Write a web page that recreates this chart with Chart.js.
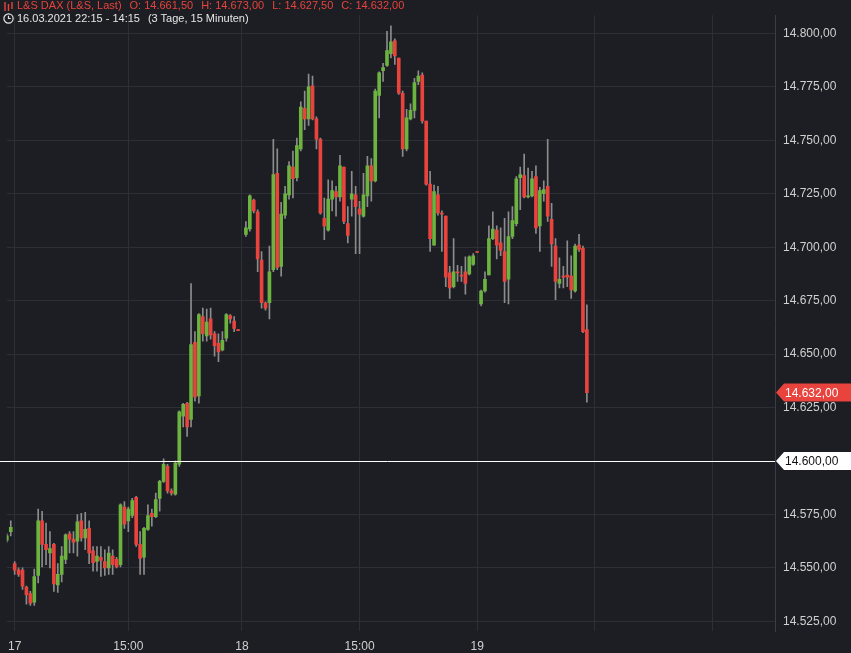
<!DOCTYPE html>
<html>
<head>
<meta charset="utf-8">
<script src="https://cdn.jsdelivr.net/npm/chart.js@4"></script>
<style>
  body { margin: 0; background: #1c1e23; overflow: hidden; }
  #wrap { position: relative; width: 851px; height: 653px; }
  #head { position: absolute; left: 3px; top: -1px; font: 11px "Liberation Sans", Arial, sans-serif; line-height: 13px; pointer-events: none; }
  #head .l1 { color: #e8433d; display: flex; align-items: center; gap: 3px; }
  #head .l2 { color: #e6e6e6; display: flex; align-items: center; gap: 3px; margin-top: 0px; }
  #head .sp { margin-left: 5px; }
</style>
</head>
<body>
<div id="wrap">
  <canvas id="chart" width="851" height="653"></canvas>
  <div id="head">
    <div class="l1">
      <svg width="11" height="10"><g stroke="#e8433d" stroke-width="1.4"><line x1="2" y1="1" x2="2" y2="10"/><line x1="5.5" y1="3" x2="5.5" y2="10"/><line x1="9" y1="1" x2="9" y2="8"/></g></svg>
      <span>L&amp;S DAX (L&amp;S, Last)</span><span class="sp">O: 14.661,50</span><span class="sp">H: 14.673,00</span><span class="sp">L: 14.627,50</span><span class="sp">C: 14.632,00</span>
    </div>
    <div class="l2">
      <svg width="11" height="11"><circle cx="5.5" cy="5.5" r="4.6" fill="none" stroke="#e6e6e6" stroke-width="1.2"/><path d="M5.5 2.8 V5.5 H7.8" fill="none" stroke="#e6e6e6" stroke-width="1.2"/></svg>
      <span>16.03.2021 22:15 - 14:15</span><span class="sp">(3 Tage, 15 Minuten)</span>
    </div>
  </div>
</div>
<script>
// 15-Minuten-Kerzen, null = Handelspause
const opens = [14563,14567,14552,14549,14549,14541,14538,14534,14546.5,14572,14561,14557,14561,14542,14547,14554,14566,14563.5,14562.5,14572,14564,14568.5,14558,14553,14555,14553,14550,14555.5,14554,14551.5,14578.5,14572,14574.5,14583,14561,14555,14568,14575.5,14574,14582.5,14590.5,14597.5,14586,14584.5,14598.5,14621,14627,14619.5,14655.5,14630.5,14667.5,14658.5,14666.5,14659.5,14655,14652,14657.5,14668,14665.5,14661.5,
  null,
  14706,14708.5,14722,14716.5,14694,14674,14674,14689.5,14734.5,14691,14715,14724.5,14737.5,14732.5,14746,14765,14760,14775.5,14760,14750.5,14713.5,14708,14722.5,14726,14723.5,14737.5,14711,14722.5,14724.5,14718,14714.5,14724,14738,14731,14771,14782.5,14785,14790.5,14796.5,14788.5,14772,14746,14760,14764,14777.5,14780.5,14759,14729.5,14701,14724.5,14716,14714.5,14688,14681.5,14688.5,14687,14688.5,14687.5,14692,14698,
  14673.5,14679.5,14687,14704,14708,14702,14698,14685,14705,14711,14732.5,14733.5,14723.5,14724,14733,14710,14725,14728.5,14713,14700.5,14683,14686.5,14687,14686.5,14679.5,14701,14699.5,14661.5];
const highs = [14566,14572,14553,14550,14550,14541.5,14539,14549.5,14577.5,14576.5,14571,14567,14561.5,14552,14560,14566,14567,14567,14575,14575.5,14576,14572,14560,14560,14560,14558.5,14560,14558.5,14555,14580,14581,14578.5,14582.5,14583.5,14567,14569,14579.5,14577.5,14585,14591,14601,14598.5,14587,14600,14623.5,14627,14627.5,14683,14660.5,14669,14671.5,14671,14671.5,14660.5,14659.5,14660.5,14669,14668.5,14667.5,14661.5,
  null,
  14712,14724.5,14722.5,14717.5,14698,14674.5,14700.5,14750.5,14746,14721,14728.5,14740,14745,14751,14768,14773,14781,14780,14761,14751,14723,14731.5,14731,14728.5,14743,14737.5,14719,14735.5,14728.5,14721.5,14734.5,14742.5,14741.5,14774,14782,14786,14801,14803.5,14797.5,14788.5,14773,14764.5,14767,14779,14782.5,14781.5,14759,14735.5,14729,14728.5,14717,14714.5,14691,14704,14691.5,14691,14695.5,14696,14697,14698,
  14680,14688.5,14710,14716.5,14710,14709,14713.5,14716.5,14719,14733,14737.5,14743.5,14737,14735.5,14738,14728,14731,14750.5,14720.5,14704,14695,14691,14703,14696,14701.5,14706,14700.5,14673];
const lows = [14562,14565,14547,14546,14540,14533,14532.5,14532.5,14543,14550.5,14551.5,14550,14539,14538.5,14543.5,14552,14557,14557,14555.5,14562.5,14558.5,14552,14548.5,14548.5,14546,14546.5,14547,14547,14550,14550.5,14568.5,14567,14573.5,14560,14547,14547,14567.5,14569.5,14573.5,14576.5,14590,14585,14584,14584,14597.5,14616,14611.5,14616,14628,14627,14656,14656,14657,14649,14646.5,14651.5,14656,14664.5,14660.5,14661,
  null,
  14705,14707.5,14716,14688.5,14671.5,14670.5,14666.5,14688.5,14689.5,14686.5,14713.5,14722.5,14723,14731,14745,14755,14757,14759.5,14746,14715.5,14703.5,14707.5,14717,14714.5,14721.5,14711,14702,14714.5,14697,14697,14714,14719,14721.5,14730.5,14760.5,14777.5,14784.5,14788.5,14785.5,14771.5,14742.5,14745,14759.5,14760.5,14776,14758,14729,14698,14701,14715,14698,14681.5,14676,14681,14684,14684,14678,14687,14691.5,14697.5,
  14672.5,14679,14687,14703.5,14694.5,14696,14674,14673.5,14704,14710,14717.5,14723,14723,14723.5,14706.5,14698,14721.5,14712,14691,14675.5,14681,14681,14681.5,14676,14679,14698,14660,14627.5];
const closes = [14565,14569,14549,14547,14541.5,14537.5,14533.5,14546,14572,14561,14558.5,14559,14542.5,14547,14555.5,14565.5,14563.5,14562,14571.5,14564,14568,14557,14552.5,14555.5,14553.5,14550,14557,14551.5,14550.5,14579.5,14570.5,14577.5,14581.5,14561,14554.5,14568.5,14574.5,14574,14582,14590.5,14598.5,14586,14585,14599,14623,14626.5,14616,14654.5,14630,14668.5,14659.5,14665,14659,14654,14651,14656.5,14668.5,14666.5,14662,14661,
  null,
  14709,14724,14717,14694.5,14674,14671.5,14688.5,14734,14690.5,14715.5,14725,14738,14732,14747.5,14765.5,14760,14775,14760,14750.5,14716,14710,14722.5,14726.5,14723.5,14738,14712,14705.5,14725,14719,14715.5,14724.5,14738,14731,14773,14781.5,14784,14792,14796,14789.5,14772,14746,14760.5,14764,14777,14780,14759,14729.5,14704,14726,14716,14715.5,14686,14681,14688.5,14688,14686.5,14683,14695.5,14696,14697.5,
  14679.5,14685,14704,14708.5,14701,14698.5,14684,14705,14712.5,14732,14734,14723.5,14724,14732,14709,14726.5,14727,14714.5,14701.5,14684,14685,14686,14686,14680,14700.5,14699,14660.5,14632];
const tickIdx = [2, 31, 60, 90, 120, 150, 180];
const tickLabels = ['17', '15:00', '18', '15:00', '19', '', ''];
const lastPrice = 14632;
const linePrice = 14600;

const green = '#6cb33f', red = '#e8433d';
const wicks = [], bodies = [], bodyColors = [];
opens.forEach((o, i) => {
  if (o === null) return;
  wicks.push({ x: i, y: [lows[i], highs[i]] });
  bodies.push({ x: i, y: [o, closes[i]] });
  bodyColors.push(closes[i] >= o ? green : red);
});

const fmt = v => v.toLocaleString('de-DE', { minimumFractionDigits: 2, maximumFractionDigits: 2 });

const priceTags = {
  id: 'priceTags',
  afterDatasetsDraw(chart) {
    const { ctx, chartArea, scales } = chart;
    ctx.save();
    const yl = Math.round(scales.y.getPixelForValue(linePrice)) + 0.5;
    ctx.strokeStyle = '#ffffff';
    ctx.lineWidth = 1;
    ctx.beginPath(); ctx.moveTo(0, yl); ctx.lineTo(chartArea.right, yl); ctx.stroke();
    const tag = (price, bg, fg) => {
      const y = scales.y.getPixelForValue(price);
      const x0 = chartArea.right;
      ctx.fillStyle = bg;
      ctx.beginPath();
      ctx.moveTo(x0 + 1, y);
      ctx.lineTo(x0 + 9, y - 9);
      ctx.lineTo(851, y - 9);
      ctx.lineTo(851, y + 9);
      ctx.lineTo(x0 + 9, y + 9);
      ctx.closePath();
      ctx.fill();
      ctx.fillStyle = fg;
      ctx.font = '12px "Liberation Sans", Arial, sans-serif';
      ctx.textBaseline = 'middle';
      ctx.fillText(fmt(price), x0 + 10, y + 1);
    };
    tag(linePrice, '#ffffff', '#111111');
    tag(lastPrice, red, '#ffffff');
    ctx.restore();
  }
};

new Chart(document.getElementById('chart'), {
  type: 'bar',
  data: {
    datasets: [
      { data: wicks, backgroundColor: '#8c8c8c', barThickness: 1, grouped: false, order: 2 },
      { data: bodies, backgroundColor: bodyColors, barThickness: 3, minBarLength: 1, grouped: false, order: 1 }
    ]
  },
  options: {
    responsive: false,
    animation: false,
    layout: { padding: 0 },
    plugins: { legend: { display: false }, tooltip: { enabled: false } },
    scales: {
      x: {
        type: 'linear', min: 0, max: 196, offset: false,
        afterBuildTicks: s => { s.ticks = tickIdx.map(v => ({ value: v })); },
        afterFit: s => { s.height = 22; },
        ticks: {
          color: '#d0d0d0', font: { size: 12, family: 'Liberation Sans' }, maxRotation: 0, padding: 8,
          callback: (v, i) => tickLabels[i]
        },
        grid: { color: '#2c2f36', drawTicks: false, offset: false },
        border: { display: false }
      },
      y: {
        position: 'right', min: 14520.5, max: 14808.5,
        afterBuildTicks: s => { const t = []; for (let v = 14525; v <= 14800; v += 25) t.push({ value: v }); s.ticks = t; },
        afterFit: s => { s.width = 76; },
        ticks: { color: '#d0d0d0', font: { size: 12, family: 'Liberation Sans' }, padding: 8, callback: v => fmt(v) },
        grid: { color: '#2c2f36', drawTicks: false },
        border: { color: '#3a3d44' }
      }
    }
  },
  plugins: [priceTags]
});
</script>
</body>
</html>
